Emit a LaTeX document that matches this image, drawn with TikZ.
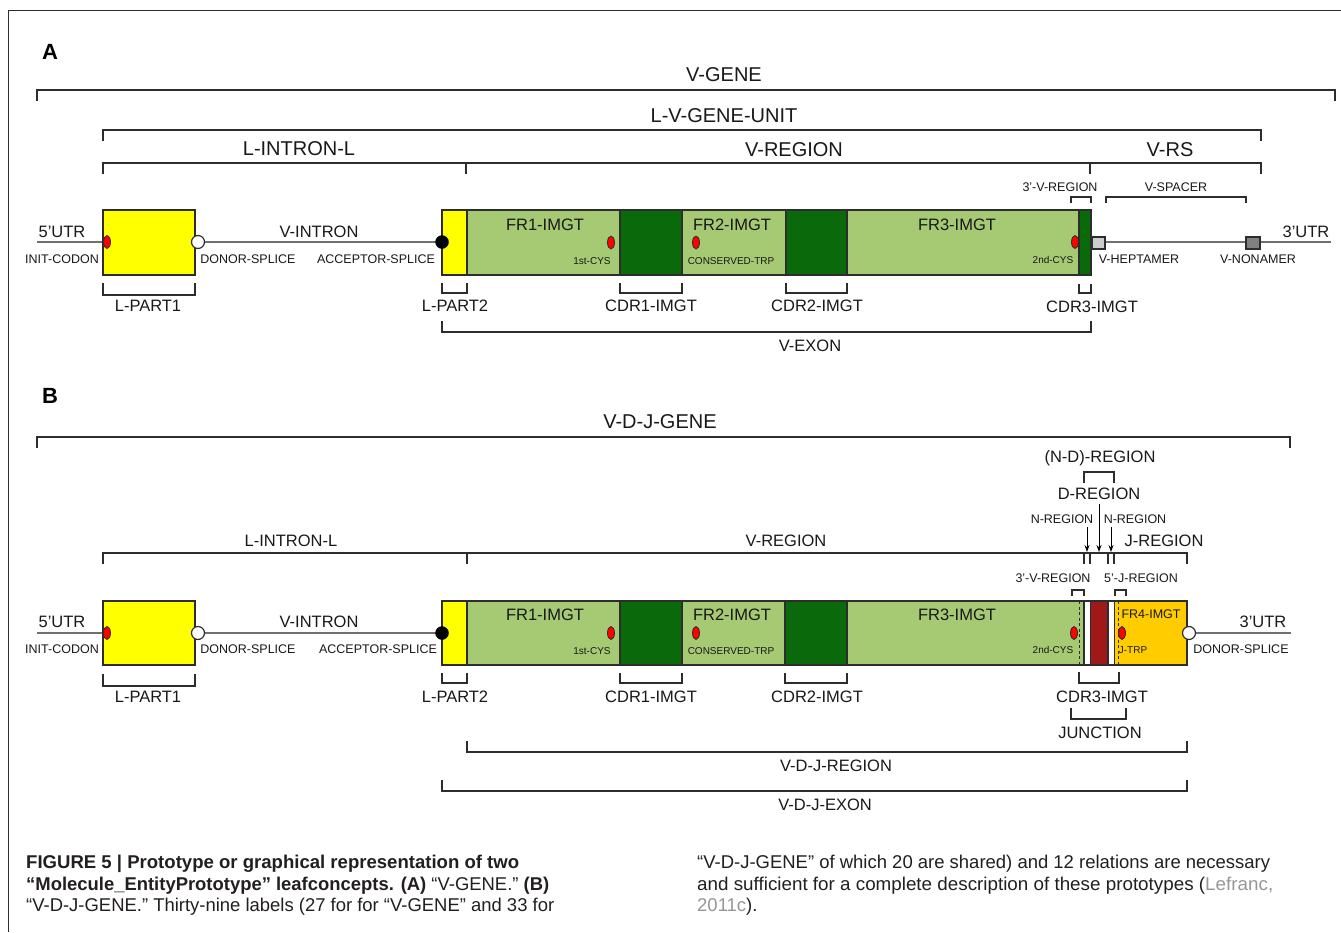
\documentclass[tikz,border=0pt]{standalone}
\usepackage{fontspec}
\setmainfont{Liberation Sans}
\usetikzlibrary{arrows.meta}
\definecolor{lgreen}{RGB}{166,201,115}
\definecolor{dgreen}{RGB}{10,105,10}
\definecolor{yel}{RGB}{255,255,0}
\definecolor{orng}{RGB}{255,204,0}
\definecolor{dred}{RGB}{160,25,25}
\definecolor{hept}{RGB}{204,204,204}
\definecolor{nona}{RGB}{128,128,128}
\definecolor{gline}{RGB}{112,112,112}
\definecolor{bline}{RGB}{45,45,45}
\definecolor{txt}{RGB}{25,25,25}
\definecolor{capt}{RGB}{35,31,32}
\definecolor{linkg}{RGB}{150,150,150}
\newcommand\brkdn[4]{\draw[brk] (#1,#3+#4) -- (#1,#3) -- (#2,#3) -- (#2,#3+#4);}
\newcommand\brkup[4]{\draw[brk] (#1,#3-#4) -- (#1,#3) -- (#2,#3) -- (#2,#3-#4);}
\newcommand\segbox[5]{\draw[segb,fill=#5] (#1,#3) rectangle (#2,#4);}
\tikzset{
  brk/.style={draw=bline,line width=1.2pt},
  geneln/.style={draw=gline,line width=2pt},
  segb/.style={draw=bline,line width=1.3pt},
  biglab/.style={inner sep=0pt,text=txt,font=\fontsize{20}{24}\selectfont},
  medlab/.style={inner sep=0pt,text=txt,font=\fontsize{16.5}{20}\selectfont},
  smllab/.style={inner sep=0pt,text=txt,font=\fontsize{12.5}{15}\selectfont},
  tinylab/.style={inner sep=0pt,text=txt,font=\fontsize{10}{12}\selectfont},
  panlab/.style={inner sep=0pt,text=black,font=\fontsize{22}{26}\selectfont\bfseries},
  caplab/.style={inner sep=0pt,anchor=base west,text=capt,font=\fontsize{18.5}{22}\selectfont},
  redell/.style={draw=bline,line width=0.8pt,fill=red,ellipse,minimum width=7pt,minimum height=13pt,inner sep=0pt},
  opencirc/.style={circle,draw=bline,line width=1.2pt,fill=white,minimum size=13pt,inner sep=0pt},
  fullcirc/.style={circle,draw=black,fill=black,minimum size=13pt,inner sep=0pt},
  dashln/.style={draw=bline,line width=1pt,dash pattern=on 3pt off 2.5pt},
  arr/.style={draw=black,line width=1pt,-{Stealth[length=7pt,width=5pt]}}
}
\usetikzlibrary{shapes.geometric}
\begin{document}
\begin{tikzpicture}[x=1pt,y=-1pt]
\useasboundingbox (0,0) rectangle (1341,932);
\fill[white] (0,0) rectangle (1341,932);
% frame
\draw[bline,line width=1pt] (8,932) -- (8,10) -- (1341,10);

%%%%%%%%%%%%%%%% PANEL A
\node[panlab] (pA) at (50,52) {A};
\brkdn{37}{1335}{90}{11}
\node[biglab] (vgene) at (724,75) {V-GENE};
\brkdn{103}{1261}{130}{11}
\node[biglab] (lvgu) at (724,116) {L-V-GENE-UNIT};
\draw[brk] (103,174) -- (103,163) -- (1261,163) -- (1261,174);
\draw[brk] (466,163) -- (466,174);
\draw[brk] (1090,163) -- (1090,174);
\node[biglab] (lilA) at (299,149) {L-INTRON-L};
\node[biglab] (vregA) at (794,150) {V-REGION};
\node[biglab] (vrs) at (1170,150) {V-RS};
\brkdn{1071}{1091}{197}{6}
\node[smllab] (tvrA) at (1060,187) {3'-V-REGION};
\brkdn{1106}{1246}{197}{6}
\node[smllab] (vsp) at (1176,187) {V-SPACER};

% gene line A
\coordinate (utr5A) at (37,242);
\coordinate (utr3A) at (1331,242);
\draw[geneln] (utr5A) -- (utr3A);
% boxes A
\segbox{103}{195}{210}{275}{yel}
\segbox{442}{467}{210}{275}{yel}
\segbox{467}{620}{210}{275}{lgreen}
\segbox{620}{682}{210}{275}{dgreen}
\segbox{682}{786}{210}{275}{lgreen}
\segbox{786}{847}{210}{275}{dgreen}
\segbox{847}{1079}{210}{275}{lgreen}
\segbox{1079}{1091}{210}{275}{dgreen}
\draw[segb,fill=hept] (1092,237) rectangle (1105,249);
\draw[segb,fill=nona] (1246,237) rectangle (1260,249);
\node[redell] (icA) at (107,242) {};
\node[opencirc] (dsA) at (198,242) {};
\node[fullcirc] (asA) at (442,242) {};
\node[redell] (c1A) at (611,242.5) {};
\node[redell] (trpA) at (696,242.5) {};
\node[redell] (c2A) at (1075,242) {};
% labels A
\node[medlab] (u5A) at (62,232) {5'UTR};
\node[smllab] (icodA) at (62,259) {INIT-CODON};
\node[medlab] (vinA) at (319,232) {V-INTRON};
\node[smllab] (dslA) at (248,259) {DONOR-SPLICE};
\node[smllab] (aslA) at (376,259) {ACCEPTOR-SPLICE};
\node[medlab] (fr1A) at (545,225) {FR1-IMGT};
\node[tinylab] (c1lA) at (592,261) {1st-CYS};
\node[medlab] (fr2A) at (732,225) {FR2-IMGT};
\node[tinylab] (trplA) at (731,261) {CONSERVED-TRP};
\node[medlab] (fr3A) at (957,225) {FR3-IMGT};
\node[tinylab] (c2lA) at (1053,260) {2nd-CYS};
\node[smllab] (heptl) at (1139,259) {V-HEPTAMER};
\node[smllab] (nonal) at (1258,259) {V-NONAMER};
\node[medlab] (u3A) at (1306,232) {3'UTR};
% lower brackets A
\brkup{103}{195}{295}{12}
\node[medlab] (lp1A) at (148,306) {L-PART1};
\brkup{442}{467}{293}{10}
\node[medlab] (lp2A) at (455,306) {L-PART2};
\brkup{620}{682}{293}{10}
\node[medlab] (cdr1A) at (651,306) {CDR1-IMGT};
\brkup{786}{847}{293}{10}
\node[medlab] (cdr2A) at (817,306) {CDR2-IMGT};
\brkup{1079}{1091}{293}{9}
\node[medlab] (cdr3A) at (1092,307) {CDR3-IMGT};
\brkup{442}{1091}{332}{11}
\node[medlab] (vexon) at (810,346) {V-EXON};

%%%%%%%%%%%%%%%% PANEL B
\node[panlab] (pB) at (50,396) {B};
\brkdn{37}{1290}{437}{11}
\node[biglab] (vdjg) at (660,422) {V-D-J-GENE};
\brkdn{103}{467}{553}{11}
\node[medlab] (lilB) at (291,541) {L-INTRON-L};
\draw[brk] (467,564) -- (467,553) -- (1187,553) -- (1187,564);
\foreach \xx in {1084,1090,1108,1114} \draw[brk] (\xx,553) -- (\xx,564);
\node[medlab] (vregB) at (786,541) {V-REGION};
\node[medlab] (jreg) at (1164,541) {J-REGION};
\node[medlab] (ndreg) at (1100,458) {(N-D)-REGION};
\brkdn{1084}{1114}{472}{11}
\node[medlab] (dreg) at (1099,494) {D-REGION};
\node[smllab] (nreg1) at (1062,519) {N-REGION};
\node[smllab] (nreg2) at (1135,519) {N-REGION};
\coordinate (n1s) at (1087,527); \coordinate (n1e) at (1087,552);
\coordinate (ds) at (1099,504); \coordinate (de) at (1099,552);
\coordinate (n2s) at (1111,527); \coordinate (n2e) at (1111,552);
\draw[arr] (n1s) -- (n1e);
\draw[arr] (ds) -- (de);
\draw[arr] (n2s) -- (n2e);
\node[smllab] (tvrB) at (1053,578) {3'-V-REGION};
\brkdn{1072}{1084}{590}{6}
\node[smllab] (fjr) at (1141,578) {5'-J-REGION};
\brkdn{1115}{1126}{590}{6}

% gene line B
\coordinate (utr5B) at (37,633);
\coordinate (utr3B) at (1291,633);
\draw[geneln] (utr5B) -- (utr3B);
\segbox{103}{195}{601}{665}{yel}
\segbox{442}{467}{601}{665}{yel}
\segbox{467}{620}{601}{665}{lgreen}
\segbox{620}{682}{601}{665}{dgreen}
\segbox{682}{785}{601}{665}{lgreen}
\segbox{785}{847}{601}{665}{dgreen}
\segbox{847}{1084}{601}{665}{lgreen}
\segbox{1084}{1090.5}{601}{665}{white}
\segbox{1090.5}{1108}{601}{665}{dred}
\segbox{1108}{1114.5}{601}{665}{white}
\segbox{1114.5}{1187}{601}{665}{orng}
\draw[dashln] (1079,601) -- (1079,665);
\draw[dashln] (1118.5,601) -- (1118.5,665);
\node[redell] (icB) at (107,633) {};
\node[opencirc] (dsB) at (198,633) {};
\node[fullcirc] (asB) at (442,633) {};
\node[redell] (c1B) at (611,633) {};
\node[redell] (trpB) at (696,633) {};
\node[redell] (c2B) at (1074,633) {};
\node[redell] (jtrp) at (1122,633) {};
\node[opencirc] (ds2B) at (1189,633) {};
% labels B
\node[medlab] (u5B) at (62,622) {5'UTR};
\node[smllab] (icodB) at (62,649) {INIT-CODON};
\node[medlab] (vinB) at (319,622) {V-INTRON};
\node[smllab] (dslB) at (248,649) {DONOR-SPLICE};
\node[smllab] (aslB) at (378,649) {ACCEPTOR-SPLICE};
\node[medlab] (fr1B) at (545,615) {FR1-IMGT};
\node[tinylab] (c1lB) at (592,651) {1st-CYS};
\node[medlab] (fr2B) at (732,615) {FR2-IMGT};
\node[tinylab] (trplB) at (731,651) {CONSERVED-TRP};
\node[medlab] (fr3B) at (957,615) {FR3-IMGT};
\node[tinylab] (c2lB) at (1053,650) {2nd-CYS};
\node[smllab] (fr4) at (1151,614) {FR4-IMGT};
\node[tinylab] (jtrpl) at (1133,650) {J-TRP};
\node[medlab] (u3B) at (1263,622) {3'UTR};
\node[smllab] (dsl2B) at (1241,649) {DONOR-SPLICE};
% lower brackets B
\brkup{103}{195}{686}{12}
\node[medlab] (lp1B) at (148,697) {L-PART1};
\brkup{442}{467}{683}{10}
\node[medlab] (lp2B) at (455,697) {L-PART2};
\brkup{620}{682}{683}{10}
\node[medlab] (cdr1B) at (651,697) {CDR1-IMGT};
\brkup{785}{847}{683}{10}
\node[medlab] (cdr2B) at (817,697) {CDR2-IMGT};
\brkup{1079}{1119}{683}{11}
\node[medlab] (cdr3B) at (1102,697) {CDR3-IMGT};
\brkup{1071}{1126}{719}{11}
\node[medlab] (junc) at (1100,733) {JUNCTION};
\brkup{467}{1187}{752}{11}
\node[medlab] (vdjr) at (836,766) {V-D-J-REGION};
\brkup{442}{1187}{791}{11}
\node[medlab] (vdje) at (825,805) {V-D-J-EXON};

%%%%%%%%%%%%%%%% CAPTION
\node[caplab] (cl1) at (26,868) {\resizebox{493pt}{\height}{\bfseries FIGURE 5 | Prototype or graphical representation of two}};
\node[caplab] (cl2) at (26,890) {\resizebox{523pt}{\height}{\bfseries “Molecule\_EntityPrototype” leafconcepts. (A)\mdseries{} “V-GENE.” \bfseries(B)}};
\node[caplab] (cl3) at (26,911.5) {\resizebox{528pt}{\height}{“V-D-J-GENE.” Thirty-nine labels (27 for for “V-GENE” and 33 for}};
\node[caplab] (cr1) at (697,868) {\resizebox{573pt}{\height}{“V-D-J-GENE” of which 20 are shared) and 12 relations are necessary}};
\node[caplab] (cr2) at (697,890) {\resizebox{576pt}{\height}{and sufficient for a complete description of these prototypes (\textcolor{linkg}{Lefranc,}}};
\node[caplab] (cr3) at (697,911.5) {\textcolor{linkg}{2011c}).};
\end{tikzpicture}
\end{document}
